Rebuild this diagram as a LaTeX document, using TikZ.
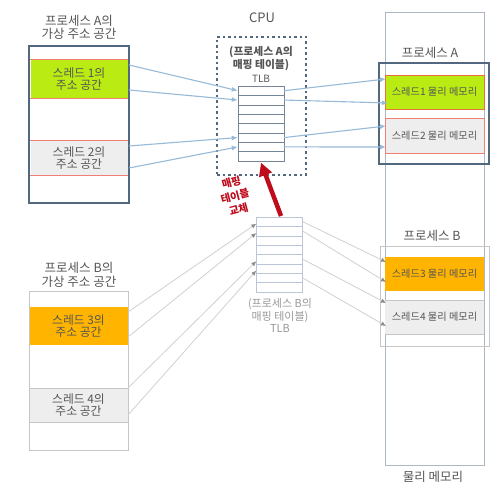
\documentclass[tikz,border=0pt]{standalone}
\usepackage{fontspec}
\setmainfont{Noto Sans CJK KR}
\usetikzlibrary{arrows.meta}

\definecolor{boxA}{RGB}{82,104,126}
\definecolor{limeA}{RGB}{186,236,20}
\definecolor{orngB}{RGB}{255,181,0}
\definecolor{bandgray}{RGB}{238,238,238}
\definecolor{bandred}{RGB}{240,128,118}
\definecolor{bandorange}{RGB}{232,112,60}
\definecolor{cLinkA}{RGB}{150,186,216}
\definecolor{cLinkB}{RGB}{208,208,208}
\definecolor{tipB}{RGB}{140,140,140}
\definecolor{txtgray}{RGB}{85,85,85}
\definecolor{swapred}{RGB}{190,12,28}
\definecolor{memline}{RGB}{172,184,198}

\begin{document}
\begin{tikzpicture}[x=1pt,y=-1pt,
    lbl/.style={font=\fontsize{12.5}{13.5}\selectfont, text=txtgray, align=center},
    band/.style={minimum width=97pt, inner sep=0pt, align=center, text=txtgray,
        font=\fontsize{11.8}{12.5}\selectfont},
    physband/.style={minimum width=99pt, inner sep=0pt, text=txtgray,
        font=\fontsize{10.2}{11}\selectfont},
    tlbrow/.style={draw, minimum width=46pt, minimum height=9.375pt, inner sep=0pt, fill=white},
    mapA/.style={draw=cLinkA, line width=1.1pt, -{Latex[length=6pt,width=5pt]}},
    mapB/.style={draw=cLinkB, line width=0.8pt, -{Latex[length=5pt,width=4.5pt,color=tipB]}}
]
    \useasboundingbox (0,0) rectangle (502,494);

    % Process A virtual address space
    \node[lbl] (titleA) at (79,27.5) {프로세스 A의\\가상 주소 공간};
    \node[band, fill=limeA, minimum height=38pt] (thrA1) at (79,79) {스레드 1의\\주소 공간};
    \node[band, fill=bandgray, minimum height=34pt] (thrA2) at (79,158) {스레드 2의\\주소 공간};
    \foreach \t in {thrA1,thrA2}
        \draw[bandred, line width=1pt] (\t.north west) -- (\t.north east)
            (\t.south west) -- (\t.south east);
    \node[draw=boxA, line width=2.5pt, minimum width=100pt, minimum height=157pt] (procA) at (79,124.5) {};

    % Process B virtual address space
    \node[lbl] (titleB) at (79,275) {프로세스 B의\\가상 주소 공간};
    \node[band, fill=orngB, minimum width=99pt, minimum height=38pt] (thrB3) at (78.5,326) {스레드 3의\\주소 공간};
    \node[band, fill=bandgray, minimum width=99pt, minimum height=34pt] (thrB4) at (78.5,405) {스레드 4의\\주소 공간};
    \draw[gray!45] (thrB4.north west) -- (thrB4.north east) (thrB4.south west) -- (thrB4.south east);
    \node[draw=gray!45, line width=0.8pt, minimum width=99pt, minimum height=159pt] (procB) at (78.5,370.5) {};

    % CPU with the TLB of process A
    \node[font=\fontsize{13}{14}\selectfont, text=txtgray] (cpu) at (262,18) {CPU};
    \node[draw=boxA, line width=2.5pt, dash pattern=on 2.5pt off 3pt, minimum width=89pt,
        minimum height=138pt] (cpubox) at (261.5,106) {};
    \node[font=\bfseries\fontsize{10.8}{11}\selectfont, text=txtgray, align=center] (tlbAname) at (261,58.5)
        {(프로세스 A의\\매핑 테이블)};
    \node[font=\fontsize{10}{11}\selectfont, text=txtgray] (tlbAtag) at (261,79) {TLB};
    \foreach \i in {1,...,8}
        \node[tlbrow, draw=boxA!80] (tlbA\i) at (261,81.3+9.375*\i) {};

    % TLB of process B (waiting)
    \foreach \i in {1,...,8}
        \node[tlbrow, draw={rgb,255:red,186;green,198;blue,214}] (tlbB\i) at (279.5,212.3+9.375*\i) {};
    \node[font=\fontsize{11}{12.5}\selectfont, text=gray!80, align=center] (tlbBname) at (280,315.5)
        {(프로세스 B의\\매핑 테이블)\\TLB};

    % Mapping table swap
    \coordinate (swapTail) at (281,216);
    \draw[swapred, line width=4.5pt, -{Triangle[length=13pt,width=13pt]}] (swapTail) -- ([yshift=-1.5pt]tlbA8.south);
    \node[font=\bfseries\fontsize{10.5}{14}\selectfont, text=swapred, align=center, rotate=15] (swaplbl)
        at (235,196) {매핑\\테이블\\교체};

    % Physical memory
    \node[draw=memline, minimum width=99pt, minimum height=453pt] (phys) at (434.5,238.5) {};
    \node[lbl] (physlbl) at (433,477) {물리 메모리};

    \node[lbl] (pAlbl) at (430,53) {프로세스 A};
    \node[physband, fill=limeA, draw=bandorange, minimum height=34pt] (pT1) at (434.5,92) {스레드1 물리 메모리};
    \node[physband, fill=bandgray, draw=bandred, minimum height=35pt] (pT2) at (434.5,135.5) {스레드2 물리 메모리};
    \node[draw=boxA, line width=2.5pt, minimum width=110pt, minimum height=101pt] (pA) at (434,113.5) {};

    \node[lbl] (pBlbl) at (432,236) {프로세스 B};
    \node[physband, fill=orngB, minimum height=34pt] (pT3) at (434.5,274) {스레드3 물리 메모리};
    \node[physband, fill=bandgray, minimum height=34pt] (pT4) at (434.5,317) {스레드4 물리 메모리};
    \draw[gray!45] (pT4.north west) -- (pT4.north east) (pT4.south west) -- (pT4.south east);
    \node[draw=gray!45, line width=0.8pt, minimum width=109pt, minimum height=100pt] (pB) at (434.5,296) {};

    % Process A: virtual -> TLB -> physical
    \coordinate (vA1) at (129,65);
    \coordinate (vA2) at (129,90);
    \coordinate (vA3) at (129,146);
    \coordinate (vA4) at (129,168);
    \draw[mapA] (vA1) -- (tlbA1.west);
    \draw[mapA] (vA2) -- (tlbA2.west);
    \draw[mapA] (vA3) -- (tlbA6.west);
    \draw[mapA] (vA4) -- (tlbA7.west);
    \coordinate (mA1) at (386,79);
    \coordinate (mA2) at (388,103);
    \coordinate (mA3) at (386,126);
    \coordinate (mA4) at (386,147);
    \draw[mapA] (tlbA1.east) -- (mA1);
    \draw[mapA] (tlbA2.east) -- (mA2);
    \draw[mapA] (tlbA6.east) -- (mA3);
    \draw[mapA] (tlbA7.east) -- (mA4);

    % Process B: virtual -> TLB -> physical
    \coordinate (vB1) at (128,312);
    \coordinate (vB2) at (128,337);
    \coordinate (vB3) at (128,388);
    \coordinate (vB4) at (128,415);
    \draw[mapB] (vB1) -- ([yshift=-2pt]tlbB1.west);
    \draw[mapB] (vB2) -- ([yshift=-2pt]tlbB2.west);
    \draw[mapB] (vB3) -- ([yshift=-2pt]tlbB5.west);
    \draw[mapB] (vB4) -- ([yshift=-2pt]tlbB6.west);
    \coordinate (mB1) at (386,262);
    \coordinate (mB2) at (386,282);
    \coordinate (mB3) at (386,303);
    \coordinate (mB4) at (386,326);
    \draw[mapB] (tlbB1.east) -- (mB1);
    \draw[mapB] (tlbB2.east) -- (mB2);
    \draw[mapB] (tlbB5.east) -- (mB3);
    \draw[mapB] (tlbB7.east) -- (mB4);

\end{tikzpicture}
\end{document}
